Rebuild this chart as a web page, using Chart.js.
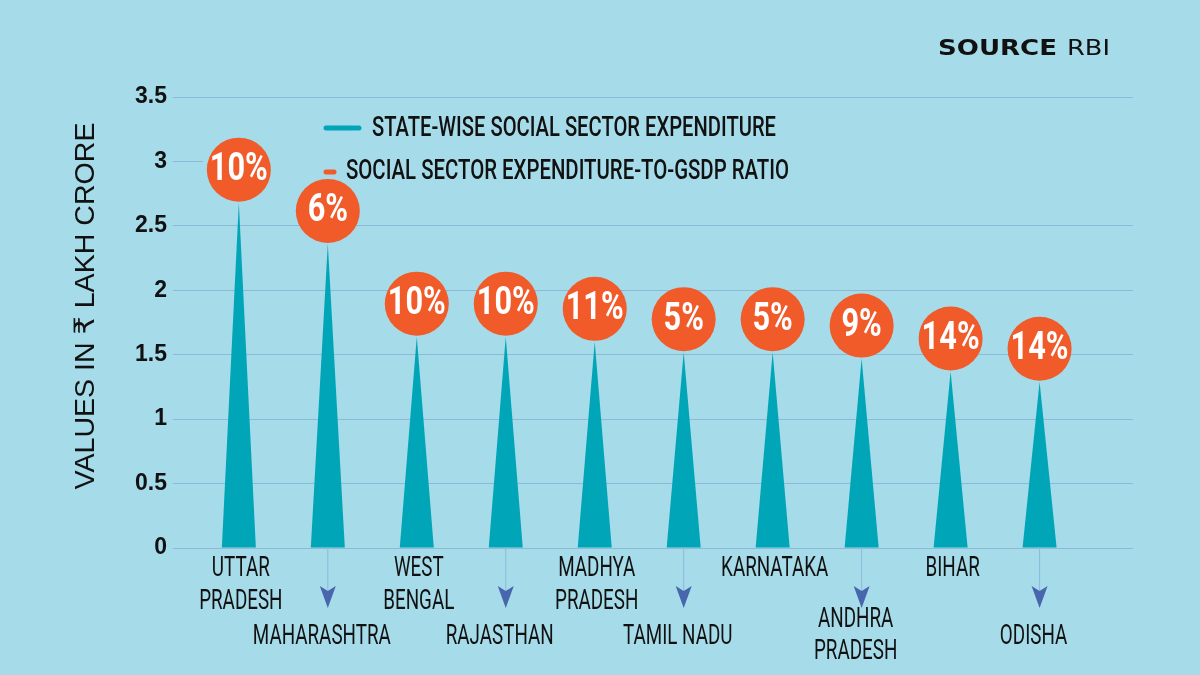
<!DOCTYPE html>
<html>
<head>
<meta charset="utf-8">
<script src="https://cdn.jsdelivr.net/npm/chart.js@4.4.1/dist/chart.umd.min.js"></script>
<style>
  html, body { margin: 0; padding: 0; background: #a6dbe9; }
  canvas { display: block; }
</style>
</head>
<body>
<canvas id="chart" width="1200" height="675"></canvas>
<script>
// data
const states = [['UTTAR', 'PRADESH'], ['MAHARASHTRA'], ['WEST', 'BENGAL'], ['RAJASTHAN'], ['MADHYA', 'PRADESH'],
                ['TAMIL NADU'], ['KARNATAKA'], ['ANDHRA', 'PRADESH'], ['BIHAR'], ['ODISHA']];
const expenditure = [2.68, 2.36, 1.64, 1.64, 1.60, 1.52, 1.52, 1.47, 1.37, 1.29];
const gsdpRatio = [10, 6, 10, 10, 11, 5, 5, 9, 14, 14];
const yTicks = [0, 0.5, 1, 1.5, 2, 2.5, 3, 3.5];
const legendLabels = ['STATE-WISE SOCIAL SECTOR EXPENDITURE', 'SOCIAL SECTOR EXPENDITURE-TO-GSDP RATIO'];
const yTitle = 'VALUES IN ₹ LAKH CRORE';

const BG = '#a6dbe9';
const TEAL = '#00a6b7';
const ORANGE = '#f15a29';
const ARROW = '#4766ad';
const GRID = '#8db9d8';
const INK = '#111111';
const NARROW = '28px Roboto';
const LEGEND = '500 28px Roboto';
const PCT = 'bold 38px Roboto';
const TITLE = '28px "Liberation Sans", Arial, "DejaVu Sans"';

function squeeze(ctx, font, sample, target) {
    ctx.font = font;
    return target / ctx.measureText(sample).width;
}

function text(ctx, str, x, y, font, k, align) {
    ctx.save();
    ctx.font = font;
    ctx.translate(x, y);
    ctx.scale(k, 1);
    ctx.textAlign = align || 'center';
    ctx.textBaseline = 'middle';
    ctx.fillText(str, 0, 0);
    ctx.restore();
}

const spikes = {
    id: 'spikes',
    beforeDatasetsDraw(chart) {
        const ctx = chart.ctx;
        const area = chart.chartArea;
        const y3 = chart.scales.y.getPixelForValue(3);
        // legend block hides the 3 gridline
        ctx.fillStyle = BG;
        ctx.fillRect(203, y3 - 3, area.right - 203, 6);

        const bars = chart.getDatasetMeta(0).data;
        ctx.fillStyle = TEAL;
        bars.forEach(function(bar) {
            ctx.beginPath();
            ctx.moveTo(bar.x - bar.width / 2, bar.base);
            ctx.lineTo(bar.x + bar.width / 2, bar.base);
            ctx.lineTo(bar.x, bar.y);
            ctx.closePath();
            ctx.fill();
        });
    },
    afterDatasetsDraw(chart) {
        const ctx = chart.ctx;
        const bars = chart.getDatasetMeta(0).data;
        const kText = squeeze(ctx, NARROW, 'MAHARASHTRA', 138);
        const kPct = squeeze(ctx, PCT, '10%', 58);

        // ratio bubbles
        bars.forEach(function(bar, i) {
            const cy = bar.y - 33;
            ctx.fillStyle = ORANGE;
            ctx.beginPath();
            ctx.arc(bar.x, cy, 32, 0, Math.PI * 2);
            ctx.fill();
            ctx.fillStyle = '#ffffff';
            text(ctx, gsdpRatio[i] + '%', bar.x, cy + 1, PCT, kPct);
        });

        // state labels, every second one pushed down with an arrow
        bars.forEach(function(bar, i) {
            const lines = states[i];
            ctx.fillStyle = INK;
            if (i % 2 === 0) {
                lines.forEach(function(l, j) {
                    text(ctx, l, bar.x + 2, 569 + j * 33, NARROW, kText);
                });
            } else {
                ctx.strokeStyle = GRID;
                ctx.lineWidth = 1;
                ctx.beginPath();
                ctx.moveTo(bar.x, bar.base);
                ctx.lineTo(bar.x, 592);
                ctx.stroke();
                ctx.fillStyle = ARROW;
                ctx.beginPath();
                ctx.moveTo(bar.x - 8, 586);
                ctx.lineTo(bar.x, 591);
                ctx.lineTo(bar.x + 8, 586);
                ctx.lineTo(bar.x, 608);
                ctx.closePath();
                ctx.fill();
                ctx.fillStyle = INK;
                const top = lines.length > 1 ? 620 : 637;
                lines.forEach(function(l, j) {
                    text(ctx, l, bar.x - 6, top + j * 32, NARROW, kText);
                });
            }
        });

        // legend
        ctx.lineCap = 'round';
        ctx.strokeStyle = TEAL;
        ctx.lineWidth = 5;
        ctx.beginPath();
        ctx.moveTo(326, 128);
        ctx.lineTo(359, 128);
        ctx.stroke();
        ctx.strokeStyle = ORANGE;
        ctx.beginPath();
        ctx.moveTo(326, 172);
        ctx.lineTo(334, 172);
        ctx.stroke();
        ctx.fillStyle = INK;
        text(ctx, legendLabels[0], 372, 129, LEGEND, squeeze(ctx, LEGEND, legendLabels[0], 404), 'left');
        text(ctx, legendLabels[1], 346, 172, LEGEND, squeeze(ctx, LEGEND, legendLabels[1], 443), 'left');

        // axis title
        ctx.save();
        ctx.translate(86, 306);
        ctx.rotate(-Math.PI / 2);
        text(ctx, yTitle, 0, 0, TITLE, squeeze(ctx, TITLE, yTitle, 367));
        ctx.restore();

        // source
        const kSrc = squeeze(ctx, 'bold 21px "DejaVu Sans"', 'SOURCE', 119);
        text(ctx, 'SOURCE', 938, 50, 'bold 21px "DejaVu Sans"', kSrc, 'left');
        const kRbi = squeeze(ctx, '21px "DejaVu Sans"', 'RBI', 43);
        text(ctx, 'RBI', 1067, 50, '21px "DejaVu Sans"', kRbi, 'left');
    }
};

const ctx = document.getElementById('chart').getContext('2d');
const chart = new Chart(ctx, {
    type: 'bar',
    data: {
        datasets: [{
            label: legendLabels[0],
            data: expenditure.map(function(v, i) { return { x: i, y: v }; }),
            backgroundColor: 'rgba(0,0,0,0)',
            barThickness: 34
        }]
    },
    options: {
        responsive: false,
        animation: false,
        devicePixelRatio: 1,
        layout: {
            autoPadding: false,
            padding: { left: 60, top: 97, right: 67, bottom: 127 }
        },
        plugins: {
            legend: { display: false },
            tooltip: { enabled: false }
        },
        scales: {
            x: {
                type: 'linear',
                offset: false,
                min: -0.74,
                max: 10.05,
                ticks: { display: false },
                grid: { display: false },
                border: { display: false },
                afterFit: function(scale) { scale.height = 0; }
            },
            y: {
                min: 0,
                max: 3.5,
                afterBuildTicks: function(scale) {
                    scale.ticks = yTicks.map(function(v) { return { value: v }; });
                },
                ticks: {
                    color: INK,
                    padding: 6,
                    font: { family: '"Liberation Sans", Arial', size: 23, weight: 'bold' },
                    callback: function(v) { return String(v); }
                },
                grid: { color: GRID, drawTicks: false, lineWidth: 1 },
                border: { display: false },
                afterFit: function(scale) { scale.width = 113; }
            }
        }
    },
    plugins: [spikes]
});
</script>
</body>
</html>
